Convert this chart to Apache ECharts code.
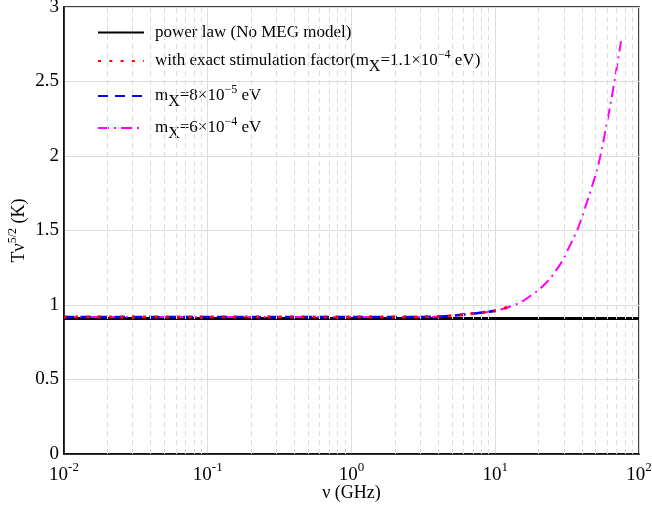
<!DOCTYPE html>
<html>
<head>
<meta charset="utf-8">
<script src="https://cdn.jsdelivr.net/npm/echarts@6/dist/echarts.min.js"></script>
<style>html,body{margin:0;padding:0;background:#fff}#c{width:652px;height:509px}</style>
</head>
<body>
<div id="c"></div>
<script>
// ---- data ----
const seriesNames = ['power law (No MEG model)', 'with exact stimulation factor(mX=1.1e-4 eV)', 'mX=8e-5 eV', 'mX=6e-4 eV'];
const powerLawFreq = [0.01, 100];
const powerLawVals = [0.91, 0.91];
const exactFreq = [0.01, 0.1, 1, 2, 3, 4, 5, 6.35, 8.77, 10, 12.3];
const exactVals = [0.92, 0.92, 0.92, 0.92, 0.92, 0.922, 0.928, 0.938, 0.953, 0.962, 0.985];
const m8Freq = [0.01, 0.1, 1, 2, 3, 4, 5, 6.35, 8.77, 10];
const m8Vals = [0.92, 0.92, 0.92, 0.92, 0.92, 0.922, 0.928, 0.938, 0.953, 0.962];
const m6Freq = [0.01, 0.1, 1, 2, 3, 4, 5, 6.35, 8.77, 10, 12.3, 15.3, 17.9, 20, 23.8, 26.1, 29.5, 31.4, 34.9, 37.2, 40.1, 45.1, 50.8, 55, 58.9, 64, 68, 75];
const m6Vals = [0.92, 0.92, 0.92, 0.92, 0.92, 0.922, 0.928, 0.938, 0.953, 0.962, 0.985, 1.022, 1.067, 1.10, 1.172, 1.224, 1.30, 1.355, 1.445, 1.503, 1.589, 1.738, 1.90, 2.04, 2.19, 2.37, 2.52, 2.77];
const minorGridX = [0.02,0.03,0.04,0.05,0.06,0.07,0.08,0.09,0.2,0.3,0.4,0.5,0.6,0.7,0.8,0.9,2,3,4,5,6,7,8,9,20,30,40,50,60,70,80,90];

const zip = (xs, ys) => xs.map((x, i) => [x, ys[i]]);
const FONT = 'Liberation Serif';
const legendRich = {
  b: {fontSize: 17, fontFamily: FONT, color: '#000'},
  sub: {fontSize: 16, fontFamily: FONT, color: '#000', padding: [11, 0, 0, 0]},
  sup: {fontSize: 12, fontFamily: FONT, color: '#000', padding: [0, 0, 12, 0]}
};
const legendLabels = {
  [seriesNames[0]]: '{b|power law (No MEG model)}',
  [seriesNames[1]]: '{b|with exact stimulation factor(m}{sub|X}{b|=1.1×10}{sup|−4}{b| eV)}',
  [seriesNames[2]]: '{b|m}{sub|X}{b|=8×10}{sup|−5}{b| eV}',
  [seriesNames[3]]: '{b|m}{sub|X}{b|=6×10}{sup|−4}{b| eV}'
};
const legendTops = [24, 49, 84, 116];
const legends = seriesNames.map((n, i) => ({
  data: [n], left: 97, top: legendTops[i], orient: 'vertical',
  itemWidth: 46, itemHeight: 14, itemGap: 0, padding: 0,
  formatter: name => legendLabels[name],
  itemStyle: {opacity: 0},
  textStyle: {fontFamily: FONT, fontSize: 17, color: '#000', padding: [0, 0, 0, 6], rich: legendRich},
  selectedMode: false
}));

const chart = echarts.init(document.getElementById('c'));
chart.setOption({
  animation: false,
  backgroundColor: '#fff',
  grid: {left: 64, right: 13, top: 7, bottom: 55, outerBoundsMode: 'none', containLabel: false,
    show: true, borderColor: '#000', borderWidth: 1.5, backgroundColor: 'transparent'},
  legend: legends,
  xAxis: {
    type: 'log', logBase: 10, min: 0.01, max: 100,
    name: 'ν (GHz)', nameLocation: 'middle', nameGap: 30, nameMoveOverlap: false,
    nameTextStyle: {fontFamily: FONT, fontSize: 18, color: '#000'},
    axisLine: {show: true, lineStyle: {color: '#000', width: 1.5}},
    axisTick: {show: false},
    splitLine: {show: true, lineStyle: {color: '#dcdcdc', width: 1}},
    minorTick: {show: false}, minorSplitLine: {show: false},
    axisLabel: {
      margin: 7,
      formatter: v => '{b|10}{sup|' + Math.round(Math.log10(v)) + '}',
      rich: {
        b: {fontSize: 19, fontFamily: FONT, color: '#000', verticalAlign: 'bottom', lineHeight: 24},
        sup: {fontSize: 13, fontFamily: FONT, color: '#000', verticalAlign: 'top', lineHeight: 24}
      }
    }
  },
  yAxis: {
    type: 'value', min: 0, max: 3, interval: 0.5,
    name: 'Tν{sup|5/2} (K)', nameLocation: 'middle', nameGap: 33, nameRotate: 90, nameMoveOverlap: false,
    nameTextStyle: {fontFamily: FONT, fontSize: 18, color: '#000',
      rich: {sup: {fontSize: 12, fontFamily: FONT, color: '#000', padding: [0, 0, 12, 0]}}},
    axisLine: {show: true, lineStyle: {color: '#000', width: 1.5}},
    axisTick: {show: false},
    splitLine: {show: true, lineStyle: {color: '#dcdcdc', width: 1}},
    axisLabel: {fontFamily: FONT, fontSize: 19, color: '#000', margin: 5}
  },
  series: [
    {
      type: 'line', name: '__minor', data: [], silent: true, z: 1,
      markLine: {
        silent: true, symbol: 'none', animation: false,
        label: {show: false},
        lineStyle: {color: '#dcdcdc', type: [5, 4], width: 1},
        data: minorGridX.map(v => ({xAxis: v}))
      }
    },
    {type: 'line', name: seriesNames[0], data: zip(powerLawFreq, powerLawVals), showSymbol: false, symbol: 'none', z: 2,
      lineStyle: {color: '#000', width: 3}, itemStyle: {color: '#000'}},
    {type: 'line', name: seriesNames[3], data: zip(m6Freq, m6Vals), showSymbol: false, symbol: 'none', smooth: 0.3, z: 3,
      lineStyle: {color: '#ff00ff', width: 2, type: [11, 5, 2, 5]}, itemStyle: {color: '#ff00ff'}},
    {type: 'line', name: seriesNames[2], data: zip(m8Freq, m8Vals), showSymbol: false, symbol: 'none', smooth: 0.2, z: 4,
      lineStyle: {color: '#0000ff', width: 2.5, type: [10, 7]}, itemStyle: {color: '#0000ff'}},
    {type: 'line', name: seriesNames[1], data: zip(exactFreq, exactVals), showSymbol: false, symbol: 'none', smooth: 0.2, z: 5,
      lineStyle: {color: '#ff0000', width: 3, type: [3, 8.3]}, itemStyle: {color: '#ff0000'}}
  ]
});
</script>
</body>
</html>
